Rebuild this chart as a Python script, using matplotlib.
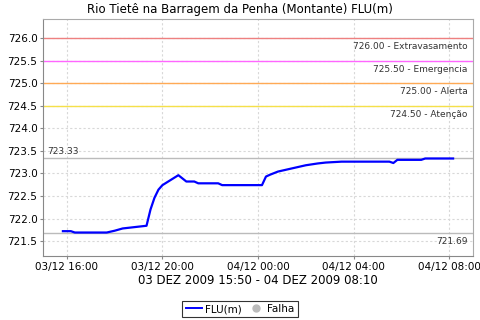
import matplotlib
matplotlib.use("Agg")
import matplotlib.pyplot as plt
import matplotlib.dates as mdates
from matplotlib.lines import Line2D
import pandas as pd

times = ["2009-12-03 15:50", "2009-12-03 16:10", "2009-12-03 16:20", "2009-12-03 17:40",
         "2009-12-03 18:00", "2009-12-03 18:20", "2009-12-03 18:50", "2009-12-03 19:20",
         "2009-12-03 19:30", "2009-12-03 19:40", "2009-12-03 19:50", "2009-12-03 20:00",
         "2009-12-03 20:20", "2009-12-03 20:40", "2009-12-03 21:00", "2009-12-03 21:20",
         "2009-12-03 21:30", "2009-12-03 22:20", "2009-12-03 22:30", "2009-12-04 00:10",
         "2009-12-04 00:20", "2009-12-04 00:30", "2009-12-04 00:50", "2009-12-04 01:20",
         "2009-12-04 01:40", "2009-12-04 02:00", "2009-12-04 02:30", "2009-12-04 02:50",
         "2009-12-04 03:30", "2009-12-04 05:30", "2009-12-04 05:40", "2009-12-04 05:50",
         "2009-12-04 06:50", "2009-12-04 07:00", "2009-12-04 08:10"]
flu = [721.72, 721.72, 721.69, 721.69,
       721.73, 721.78, 721.81, 721.84,
       722.20, 722.46, 722.64, 722.74,
       722.85, 722.96, 722.82, 722.82,
       722.78, 722.78, 722.74, 722.74,
       722.93, 722.97, 723.04, 723.10,
       723.14, 723.18, 723.22, 723.24,
       723.26, 723.26, 723.23, 723.30,
       723.30, 723.33, 723.33]

thresholds = [726.00, 725.50, 725.00, 724.50]
threshold_names = ["Extravasamento", "Emergencia", "Alerta", "Atenção"]
threshold_colors = ["#ee8080", "#ff66ff", "#ffaa55", "#f5e04a"]
max_val = 723.33
min_val = 721.69

title = "Rio Tietê na Barragem da Penha (Montante) FLU(m)"
subtitle = "03 DEZ 2009 15:50 - 04 DEZ 2009 08:10"
xticks = ["2009-12-03 16:00", "2009-12-03 20:00", "2009-12-04 00:00",
          "2009-12-04 04:00", "2009-12-04 08:00"]
yticks = [721.5, 722.0, 722.5, 723.0, 723.5, 724.0, 724.5, 725.0, 725.5, 726.0]

t = pd.to_datetime(times)

fig = plt.figure(figsize=(4.8, 3.2), dpi=100)
ax = fig.add_axes([43/480, 1-256/320, 430/480, 237/320])

for v, c in zip(thresholds, threshold_colors):
    ax.axhline(v, color=c, lw=1, zorder=2)
for v in (max_val, min_val):
    ax.axhline(v, color="#bbbbbb", lw=1, zorder=2)

ax.plot(t, flu, color="#0000ff", lw=1.6, zorder=3)

ax.set_xlim(pd.Timestamp("2009-12-03 15:00"), pd.Timestamp("2009-12-04 09:00"))
ax.set_ylim(721.17, 726.42)
ax.set_yticks(yticks)
ax.set_yticklabels([f"{v:.1f}" for v in yticks])
ax.set_xticks(pd.to_datetime(xticks))
ax.xaxis.set_major_formatter(mdates.DateFormatter("%d/%m %H:%M"))
ax.tick_params(labelsize=7.5, length=2, color="#888888", pad=2)
ax.grid(True, color="#d8d8d8", ls=(0, (2, 2)), lw=0.8, zorder=1)
for s in ("left", "bottom"):
    ax.spines[s].set_color("#888888")
for s in ("top", "right"):
    ax.spines[s].set_color("#aaaaaa")

for v, n in zip(thresholds, threshold_names):
    ax.annotate(f"{v:.2f} - {n}", xy=(1, v), xycoords=("axes fraction", "data"),
                xytext=(-4, -3), textcoords="offset points", ha="right", va="top",
                fontsize=6.5, color="#333333")
ax.annotate(f"{max_val:.2f}", xy=(0, max_val), xycoords=("axes fraction", "data"),
            xytext=(3, 2), textcoords="offset points", ha="left", va="bottom",
            fontsize=6.5, color="#333333")
ax.annotate(f"{min_val:.2f}", xy=(1, min_val), xycoords=("axes fraction", "data"),
            xytext=(-4, -3), textcoords="offset points", ha="right", va="top",
            fontsize=6.5, color="#333333")

fig.text(0.5, 1-10/320, title, ha="center", va="center", fontsize=8.5)
ax.set_xlabel(subtitle, fontsize=8.5, labelpad=2)

handles = [Line2D([], [], color="#0000ff", lw=1.4),
           Line2D([], [], ls="none", marker="o", color="#bbbbbb", markersize=5)]
leg = fig.legend(handles, ["FLU(m)", "Falha"], loc="center", bbox_to_anchor=(240/480, 1-309/320),
                 ncol=2, fontsize=7.5, frameon=True, fancybox=False, handlelength=1.6,
                 handletextpad=0.3, columnspacing=0.5, borderpad=0.3, borderaxespad=0)
leg.get_frame().set_edgecolor("black")
leg.get_frame().set_linewidth(0.8)

fig.savefig("out.png", dpi=100)
